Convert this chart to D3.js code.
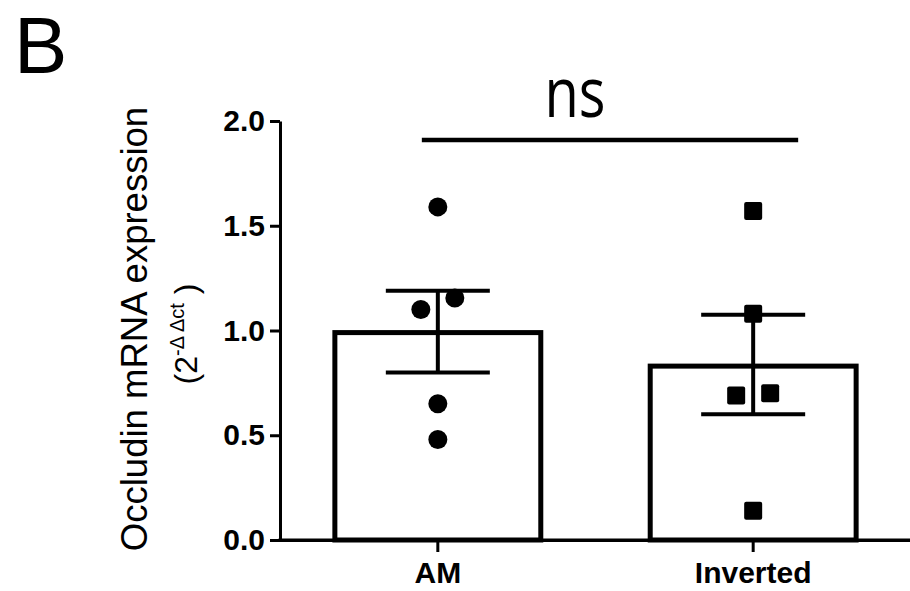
<!DOCTYPE html>
<html>
<head>
<meta charset="utf-8">
<script src="https://cdn.jsdelivr.net/npm/d3@7"></script>
<style>
  body { margin: 0; background: #fff; }
  svg { display: block; }
</style>
</head>
<body>
<svg id="chart" width="910" height="591"></svg>
<script>
// group names and bar heights (mean), error bar ends
var groups = ["AM", "Inverted"];
var means = [0.99, 0.83];
var errLow = [0.80, 0.60];
var errHigh = [1.19, 1.075];
// individual samples
var amValues = [1.59, 1.10, 1.155, 0.65, 0.48];
var invertedValues = [1.57, 1.08, 0.69, 0.70, 0.14];
var yTicks = [0, 0.5, 1.0, 1.5, 2.0];

var svg = d3.select("#chart");
var width = 910, height = 591;

var x = d3.scaleBand()
    .domain(groups)
    .range([280, 911])
    .paddingInner(0.347)
    .paddingOuter(0.174);

var y = d3.scaleLinear()
    .domain([0, 2])
    .range([540, 121]);

var font = "'Liberation Sans', Arial, sans-serif";

// y axis
var yAxis = svg.append("g")
    .attr("transform", "translate(280,0)")
    .call(d3.axisLeft(y).tickValues(yTicks).tickSize(10).tickSizeOuter(0).tickPadding(5).tickFormat(d3.format(".1f")));
yAxis.select(".domain").attr("stroke", "#000").attr("stroke-width", 3);
yAxis.selectAll(".tick line").attr("stroke", "#000").attr("stroke-width", 3);
yAxis.selectAll(".tick text")
    .attr("fill", "#000")
    .style("font-family", font)
    .style("font-size", "30px")
    .style("font-weight", "bold");

// x axis
var xAxis = svg.append("g")
    .attr("transform", "translate(0,540)")
    .call(d3.axisBottom(x).tickSize(12).tickSizeOuter(0).tickPadding(10));
xAxis.select(".domain").attr("stroke", "#000").attr("stroke-width", 3)
    .attr("d", "M278.5,0.5H910");
xAxis.selectAll(".tick line").attr("stroke", "#000").attr("stroke-width", 3);
xAxis.selectAll(".tick text")
    .attr("fill", "#000")
    .style("font-family", font)
    .style("font-size", "30px")
    .style("font-weight", "bold");

// bars
svg.append("g").selectAll("rect")
    .data(groups)
    .enter().append("rect")
    .attr("x", function(d) { return x(d); })
    .attr("width", x.bandwidth())
    .attr("y", function(d, i) { return y(means[i]); })
    .attr("height", function(d, i) { return y(0) - y(means[i]); })
    .attr("fill", "#fff")
    .attr("stroke", "#000")
    .attr("stroke-width", 5);

// redraw x axis line over the bar bottoms
svg.append("line")
    .attr("x1", 278.5).attr("x2", 910)
    .attr("y1", y(0)).attr("y2", y(0))
    .attr("stroke", "#000").attr("stroke-width", 3);

// error bars
var capHalf = 52;
var err = svg.append("g").attr("stroke", "#000").attr("stroke-width", 4);
groups.forEach(function(g, i) {
  var cx = x(g) + x.bandwidth() / 2;
  err.append("line").attr("x1", cx).attr("x2", cx).attr("y1", y(errLow[i])).attr("y2", y(errHigh[i]));
  err.append("line").attr("x1", cx - capHalf).attr("x2", cx + capHalf).attr("y1", y(errLow[i])).attr("y2", y(errLow[i]));
  err.append("line").attr("x1", cx - capHalf).attr("x2", cx + capHalf).attr("y1", y(errHigh[i])).attr("y2", y(errHigh[i]));
});

// spread points that sit close together: lower one left, higher one right
function offsets(vals) {
  return vals.map(function(v, i) {
    var near = vals.filter(function(w, j) { return j !== i && Math.abs(w - v) < 0.08; });
    if (!near.length) return 0;
    return v < near[0] ? -1 : 1;
  });
}

var amOff = offsets(amValues);
var amCx = x("AM") + x.bandwidth() / 2;
svg.append("g").selectAll("circle")
    .data(amValues)
    .enter().append("circle")
    .attr("cx", function(d, i) { return amCx + amOff[i] * 17; })
    .attr("cy", function(d) { return y(d); })
    .attr("r", 9.5)
    .attr("fill", "#000");

var invOff = offsets(invertedValues);
var invCx = x("Inverted") + x.bandwidth() / 2;
var sq = 18;
svg.append("g").selectAll("rect")
    .data(invertedValues)
    .enter().append("rect")
    .attr("x", function(d, i) { return invCx + invOff[i] * 17 - sq / 2; })
    .attr("y", function(d) { return y(d) - sq / 2; })
    .attr("width", sq)
    .attr("height", sq)
    .attr("rx", 2)
    .attr("fill", "#000");

// significance bracket
svg.append("line")
    .attr("x1", amCx - 16).attr("x2", invCx + 45)
    .attr("y1", 140).attr("y2", 140)
    .attr("stroke", "#000").attr("stroke-width", 4.5);
svg.append("text")
    .attr("transform", "translate(575,117) scale(1,1.23)")
    .attr("text-anchor", "middle")
    .style("font-family", "'Open Sans', sans-serif")
    .style("font-size", "56px")
    .text("ns");

// panel letter
svg.append("text")
    .attr("x", 14).attr("y", 73)
    .style("font-family", font)
    .style("font-size", "80px")
    .text("B");

// y axis title
svg.append("text")
    .attr("transform", "translate(147,329) rotate(-90)")
    .attr("text-anchor", "middle")
    .style("font-family", font)
    .style("font-size", "36.5px")
    .text("Occludin mRNA expression");

var sub = svg.append("text")
    .attr("transform", "translate(197,334) rotate(-90)")
    .attr("text-anchor", "middle")
    .style("font-family", font)
    .style("font-size", "32px");
sub.append("tspan").text("(2");
sub.append("tspan").attr("dy", -13).style("font-size", "20px").text("-\u0394\u2009\u0394ct");
sub.append("tspan").attr("dy", 13).text(" )");
</script>
</body>
</html>
